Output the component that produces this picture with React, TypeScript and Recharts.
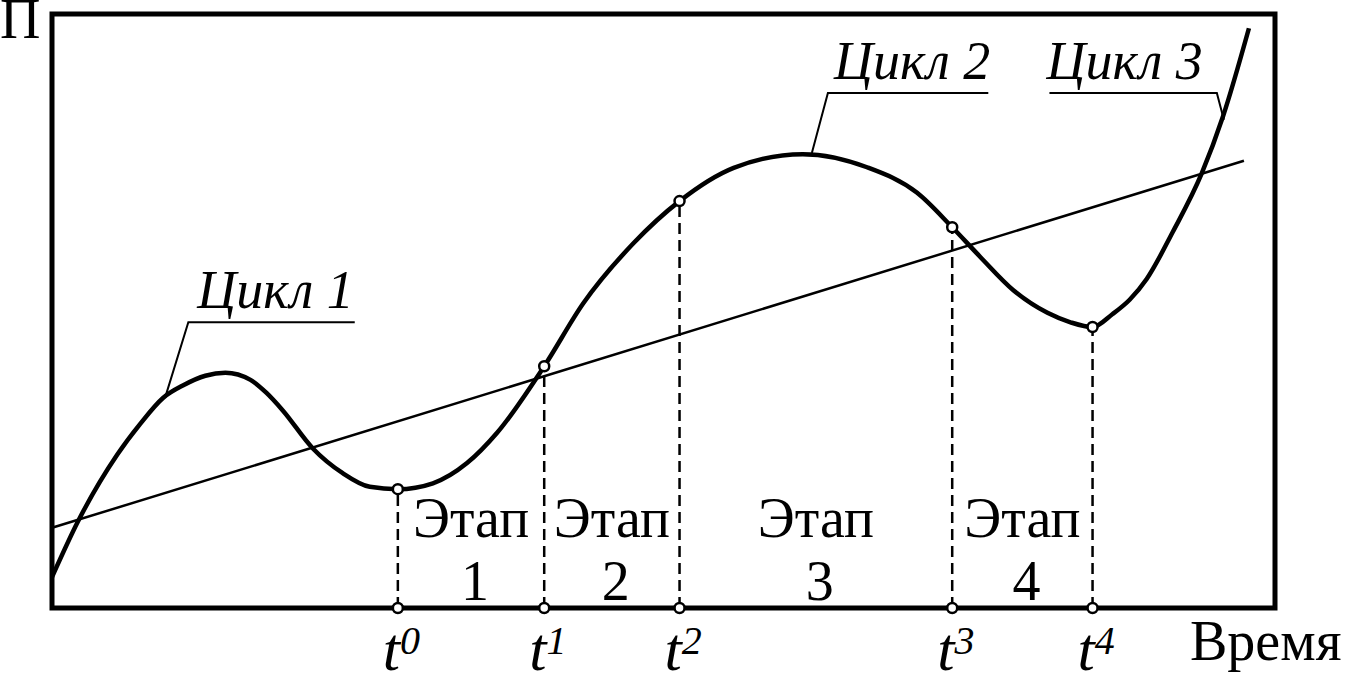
import { LineChart, Line, XAxis, YAxis, ReferenceArea, ReferenceLine, ReferenceDot } from "recharts";

document.body.style.margin = "0";

const serif = "Liberation Serif, Times New Roman, serif";

// time axis 0..122, indicator П 0..100
const curveT = [0, 2.6, 6.5, 8.8, 11.1, 13.1, 15.3, 17.3, 19.8, 21.4, 23.0, 26.0, 29.0, 31.7, 34.5, 38.0, 41.4, 44.4, 49.1, 53.0, 58.0, 62.6, 68.0, 74.9, 81.3, 86.3, 89.8, 92.6, 95.9, 99.3, 101.6, 103.8, 105.8, 107.5, 109.2, 111.8, 114.7, 116.8, 119.4];
const curveV = [5.2, 14.6, 25.8, 31.0, 35.4, 37.5, 39.1, 39.6, 38.4, 36.2, 33.3, 26.9, 22.7, 20.4, 20.0, 21.0, 24.4, 29.5, 40.7, 51.3, 61.4, 68.5, 74.1, 76.4, 74.2, 69.9, 64.1, 59.1, 53.5, 49.7, 48.1, 47.3, 49.5, 51.9, 55.4, 63.3, 73.2, 82.7, 97.6];

const trendT = [0, 118.9];
const trendV = [13.5, 75.3];

const eventT = [34.5, 49.1, 62.6, 89.8, 103.8];
const eventV = [20.0, 40.7, 68.5, 64.1, 47.3];

const stageNames = ["1", "2", "3", "4"];

const cycleNames = ["Цикл 1", "Цикл 2", "Цикл 3"];
const cycleLabelT = [22.3, 85.8, 107.0];
const cycleLeaderT = [
  [11.3, 13.6, 30.2],
  [75.8, 77.4, 93.4],
  [99.5, 116.2, 116.9],
];
const cycleLeaderV = [
  [35.5, 48.1, 48.1],
  [76.6, 86.7, 86.7],
  [86.7, 86.7, 82.2],
];

const curveData = curveT.map((t, i) => ({ t, v: curveV[i] }));
const trendData = trendT.map((t, i) => ({ t, v: trendV[i] }));
const leaderData = cycleLeaderT.map((ts, k) => ts.map((t, i) => ({ t, v: cycleLeaderV[k][i] })));

const TimeTick = (props: any) => {
  const { x, y, index } = props;
  return (
    <text x={x - 15} y={y + 62} fontFamily={serif} fontStyle="italic" fontSize={62} fill="#000">
      t
      <tspan dy={-16} fontSize={40}>
        {index}
      </tspan>
    </text>
  );
};

export default function App() {
  return (
    <LineChart width={1345} height={675} margin={{ top: 14, right: 70, bottom: 37, left: 52 }}>
      <XAxis
        dataKey="t"
        type="number"
        domain={[0, 122]}
        ticks={eventT}
        axisLine={false}
        tickLine={false}
        tickSize={0}
        tickMargin={0}
        height={30}
        tick={TimeTick}
        interval={0}
      />
      <YAxis type="number" domain={[0, 100]} hide />
      <ReferenceArea x1={0} x2={122} y1={0} y2={100} fill="none" stroke="#000" strokeWidth={5} fillOpacity={0} />

      <Line data={trendData} dataKey="v" stroke="#000" strokeWidth={2.5} dot={false} isAnimationActive={false} />
      <Line data={curveData} dataKey="v" type="monotone" stroke="#000" strokeWidth={4.5} dot={false} isAnimationActive={false} />
      {leaderData.map((d, k) => (
        <Line key={k} data={d} dataKey="v" stroke="#000" strokeWidth={2} dot={false} isAnimationActive={false} />
      ))}

      {eventT.map((t, i) => (
        <ReferenceLine
          key={"d" + i}
          segment={[
            { x: t, y: 0 },
            { x: t, y: eventV[i] },
          ]}
          stroke="#000"
          strokeWidth={2.5}
          strokeDasharray="11 6"
        />
      ))}

      {stageNames.map((s, i) => (
        <ReferenceDot
          key={"s" + i}
          x={(eventT[i] + eventT[i + 1]) / 2}
          y={0}
          r={0}
          shape={(p: any) => (
            <g fontFamily={serif}>
              <text x={p.cx} y={p.cy - 71} textAnchor="middle" fontSize={56} fill="#000">
                Этап
              </text>
              <text x={p.cx + 4} y={p.cy - 8} textAnchor="middle" fontSize={56} fill="#000">
                {s}
              </text>
            </g>
          )}
        />
      ))}

      {cycleNames.map((c, i) => (
        <ReferenceDot
          key={"c" + i}
          x={cycleLabelT[i]}
          y={cycleLeaderV[i][1]}
          r={0}
          shape={(p: any) => (
            <text x={p.cx} y={p.cy - 14} textAnchor="middle" fontFamily={serif} fontStyle="italic" fontSize={54} fill="#000">
              {c}
            </text>
          )}
        />
      ))}

      {eventT.map((t, i) => (
        <ReferenceDot key={"p" + i} x={t} y={eventV[i]} r={5} fill="#fff" stroke="#000" strokeWidth={2.5} />
      ))}
      {eventT.map((t, i) => (
        <ReferenceDot key={"a" + i} x={t} y={0} r={5} fill="#fff" stroke="#000" strokeWidth={2.5} />
      ))}

      <text x={0} y={38} fontFamily={serif} fontSize={56} fill="#000">
        П
      </text>
      <text x={1190} y={660} fontFamily={serif} fontSize={56} fill="#000">
        Время
      </text>
    </LineChart>
  );
}
